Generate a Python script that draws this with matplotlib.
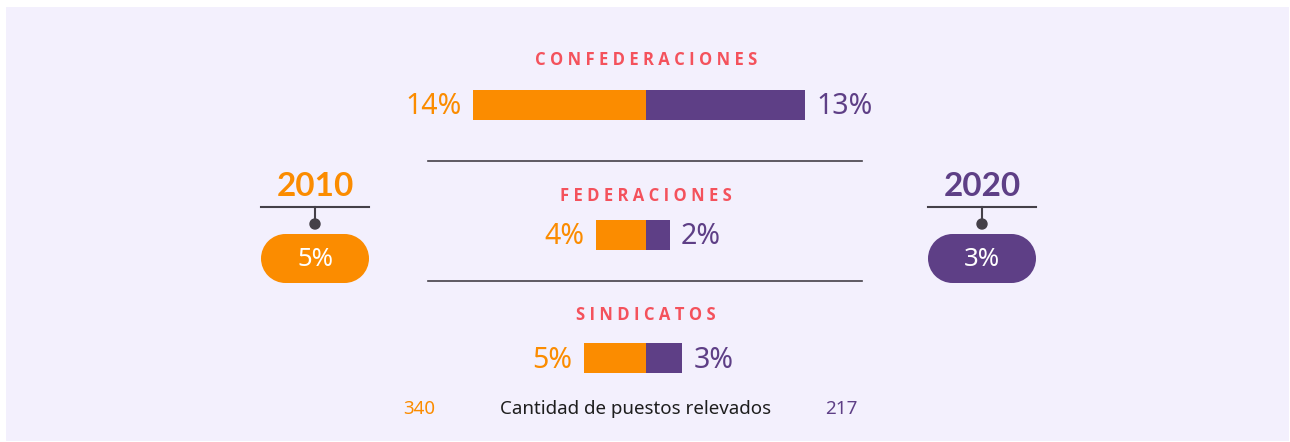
import matplotlib
matplotlib.use("Agg")
import matplotlib.pyplot as plt
from matplotlib.patches import Rectangle, Circle

# ---- data ----
categories = ["CONFEDERACIONES", "FEDERACIONES", "SINDICATOS"]
values_2010 = [14, 4, 5]
values_2020 = [13, 2, 3]
years = ["2010", "2020"]
totals_pct = [5, 3]
counts = [340, 217]
footer_label = "Cantidad de puestos relevados"

# ---- style ----
ORANGE = "#fb8c00"
PURPLE = "#5e3f86"
CORAL = "#f4525c"
BG = "#f3f0fd"
LINE = "#444048"
W, H = 1290, 442
PX_PER_PCT = 12.3
CENTER_X = 645.5

fig = plt.figure(figsize=(W / 100, H / 100), dpi=100)
fig.patch.set_facecolor("white")

# pixel-coordinate axes
ax = fig.add_axes([0, 0, 1, 1])
ax.set_xlim(0, W)
ax.set_ylim(H, 0)
ax.axis("off")
ax.add_patch(Rectangle((6, 7), 1283, 434, facecolor=BG, edgecolor="none", zorder=0))

# bar axes: x in percent units, y in pixels
axb = fig.add_axes([0, 0, 1, 1], facecolor="none")
axb.set_xlim(-CENTER_X / PX_PER_PCT, (W - CENTER_X) / PX_PER_PCT)
axb.set_ylim(H, 0)
axb.axis("off")

bar_y = [105, 235, 358]
title_y = [60, 196, 315]
bar_h = 30

num_font = {"family": ["Noto Sans", "DejaVu Sans"], "weight": "normal"}
title_font = ["Open Sans", "DejaVu Sans"]

for cat, v0, v1, by, ty in zip(categories, values_2010, values_2020, bar_y, title_y):
    axb.barh(by, -v0, left=0, height=bar_h, color=ORANGE, zorder=3)
    axb.barh(by, v1, left=0, height=bar_h, color=PURPLE, zorder=3)
    axb.text(-v0 - 12 / PX_PER_PCT, by + 2, f"{v0}%", ha="right", va="center",
             fontsize=20.5, color=ORANGE, **num_font)
    axb.text(v1 + 11 / PX_PER_PCT, by + 2, f"{v1}%", ha="left", va="center",
             fontsize=20.5, color=PURPLE, **num_font)
    ax.text(646, ty, " ".join(cat), ha="center", va="center",
            fontsize=12, color=CORAL, fontweight="bold", family=title_font)

# separators
for y in (161, 281):
    ax.plot([428, 862], [y, y], color=LINE, lw=1.2, zorder=2)

# year blocks
R = 24.5
for yr, pct, cx, col in zip(years, totals_pct, (315, 982), (ORANGE, PURPLE)):
    ax.text(cx, 186, yr, ha="center", va="center", fontsize=24, fontweight="bold",
            color=col, family=["Lato", "DejaVu Sans"])
    ax.plot([cx - 54, cx + 54], [207, 207], color=LINE, lw=1.5, zorder=2)
    ax.plot([cx, cx], [207, 222], color=LINE, lw=1.5, zorder=2)
    ax.add_patch(Circle((cx, 224), 5, color=LINE, zorder=3))
    ax.add_patch(Rectangle((cx - 54 + R, 234), 108 - 2 * R, 2 * R,
                           facecolor=col, edgecolor="none", zorder=2))
    ax.add_patch(Circle((cx - 54 + R, 234 + R), R, facecolor=col, edgecolor="none", zorder=2))
    ax.add_patch(Circle((cx + 54 - R, 234 + R), R, facecolor=col, edgecolor="none", zorder=2))
    ax.text(cx, 259, f"{pct}%", ha="center", va="center", fontsize=18.5,
            color="white", **num_font)

# footer
foot_font = ["Noto Sans", "DejaVu Sans"]
ax.text(403, 409, str(counts[0]), ha="left", va="center", fontsize=13.5,
        color=ORANGE, family=foot_font)
ax.text(636, 409, footer_label, ha="center", va="center", fontsize=13.5,
        color="#1e1e1e", family=foot_font)
ax.text(857, 409, str(counts[1]), ha="right", va="center", fontsize=13.5,
        color=PURPLE, family=foot_font)

fig.savefig("out.png", dpi=100, facecolor=fig.get_facecolor())
